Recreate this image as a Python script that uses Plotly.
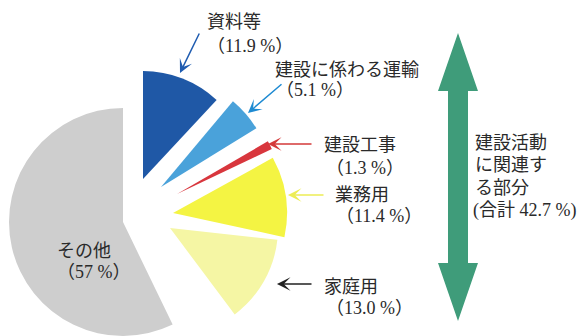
import plotly.graph_objects as go

W, H = 587, 336

# ---- data ----
labels = ["資料等", "建設に係わる運輸", "建設工事", "業務用", "家庭用", "その他"]
values = [11.9, 5.1, 1.3, 11.4, 13.0, 57]
decimals = [1, 1, 1, 1, 1, 0]
group_lines = ["建設活動", "に関連す", "る部分"]
group_count = 5  # first five slices belong to the construction group

# ---- style ----
colors = ["#1f58a6", "#4aa2da", "#d8363d", "#f4f443", "#f5f6a4", "#cecece"]
arrow_colors = ["#1f5cb0", "#1e8ad2", "#d43a3a", "#eded55", "#222222"]
apex = [(143, 179), (161, 187), (177, 194), (173, 213), (170, 228), (123, 222)]
radius = [108, 112, 105, 114, 108, 114]
rotation = [0, -3, -1.5, -5, -11, 0]

# label anchor (left x, center y) for name line and value line
name_pos = [(205, 22), (273, 70), (322, 145), (333, 195), (322, 287), (55, 251)]
val_pos = [(205, 46), (274, 90), (324, 168), (334, 216), (324, 308), (55, 272)]
arrow_head = [(180, 73), (248, 113), (268, 144), (288, 195), (277, 284)]
arrow_tail = [(200, 32), (283, 83), (313, 144), (325, 195), (313, 284)]

FONT = "Liberation Serif, Noto Sans CJK JP, serif"
TXT = "#2a2a2a"


def px(x):
    return x / W


def py(y):
    return 1 - y / H


fig = go.Figure()
n = len(values)
for i in range(n):
    ax_, ay_ = apex[i]
    r = radius[i]
    cols = ["rgba(0,0,0,0)"] * n
    cols[i] = colors[i]
    fig.add_trace(go.Pie(
        labels=labels, values=values, sort=False, direction="clockwise",
        rotation=rotation[i],
        marker=dict(colors=cols, line=dict(width=0)),
        textinfo="none", hoverinfo="skip", showlegend=False,
        domain=dict(x=[px(ax_ - r), px(ax_ + r)], y=[py(ay_ + r), py(ay_ - r)]),
    ))


def fmt(v, d):
    return f"{v:.{d}f}"


annotations = []
for i in range(n):
    annotations.append(dict(x=px(name_pos[i][0]), y=py(name_pos[i][1]), text=labels[i],
                            xanchor="left", yanchor="middle", showarrow=False))
    annotations.append(dict(x=px(val_pos[i][0]), y=py(val_pos[i][1]),
                            text=f"（{fmt(values[i], decimals[i])} %）",
                            xanchor="left", yanchor="middle", showarrow=False))

for i in range(len(arrow_head)):
    hx, hy = arrow_head[i]
    tx, ty = arrow_tail[i]
    annotations.append(dict(x=px(hx), y=py(hy), xref="paper", yref="paper",
                            ax=tx - hx, ay=ty - hy, text="", showarrow=True,
                            arrowhead=3, arrowsize=1.5, arrowwidth=1.5,
                            arrowcolor=arrow_colors[i], standoff=0, font=dict(size=1)))

total = sum(values[:group_count])
gy = [143, 165, 188]
for line, yy in zip(group_lines, gy):
    annotations.append(dict(x=px(473), y=py(yy), text=line, xanchor="left",
                            yanchor="middle", showarrow=False))
annotations.append(dict(x=px(471), y=py(210), text=f"(合計 {total:.1f} %)",
                        xanchor="left", yanchor="middle", showarrow=False))

for a in annotations:
    a.setdefault("xref", "paper")
    a.setdefault("yref", "paper")
    if a.get("showarrow") is False:
        a["font"] = dict(family=FONT, size=18, color=TXT)

# green double arrow (decoration)
cx, top, bot = 458, 33, 321
hw, sw, hl = 20, 10, 58
pts = [(cx, top), (cx + hw, top + hl), (cx + sw, top + hl), (cx + sw, bot - hl),
       (cx + hw, bot - hl), (cx, bot), (cx - hw, bot - hl), (cx - sw, bot - hl),
       (cx - sw, top + hl), (cx - hw, top + hl)]
path = "M " + " L ".join(f"{px(x):.5f},{py(y):.5f}" for x, y in pts) + " Z"
shapes = [dict(type="path", xref="paper", yref="paper", path=path,
               fillcolor="#3f9c7a", line=dict(width=0))]

fig.update_layout(width=W, height=H, margin=dict(l=0, r=0, t=0, b=0),
                  paper_bgcolor="white", plot_bgcolor="white",
                  showlegend=False, annotations=annotations, shapes=shapes)

fig.write_html("out.html")
